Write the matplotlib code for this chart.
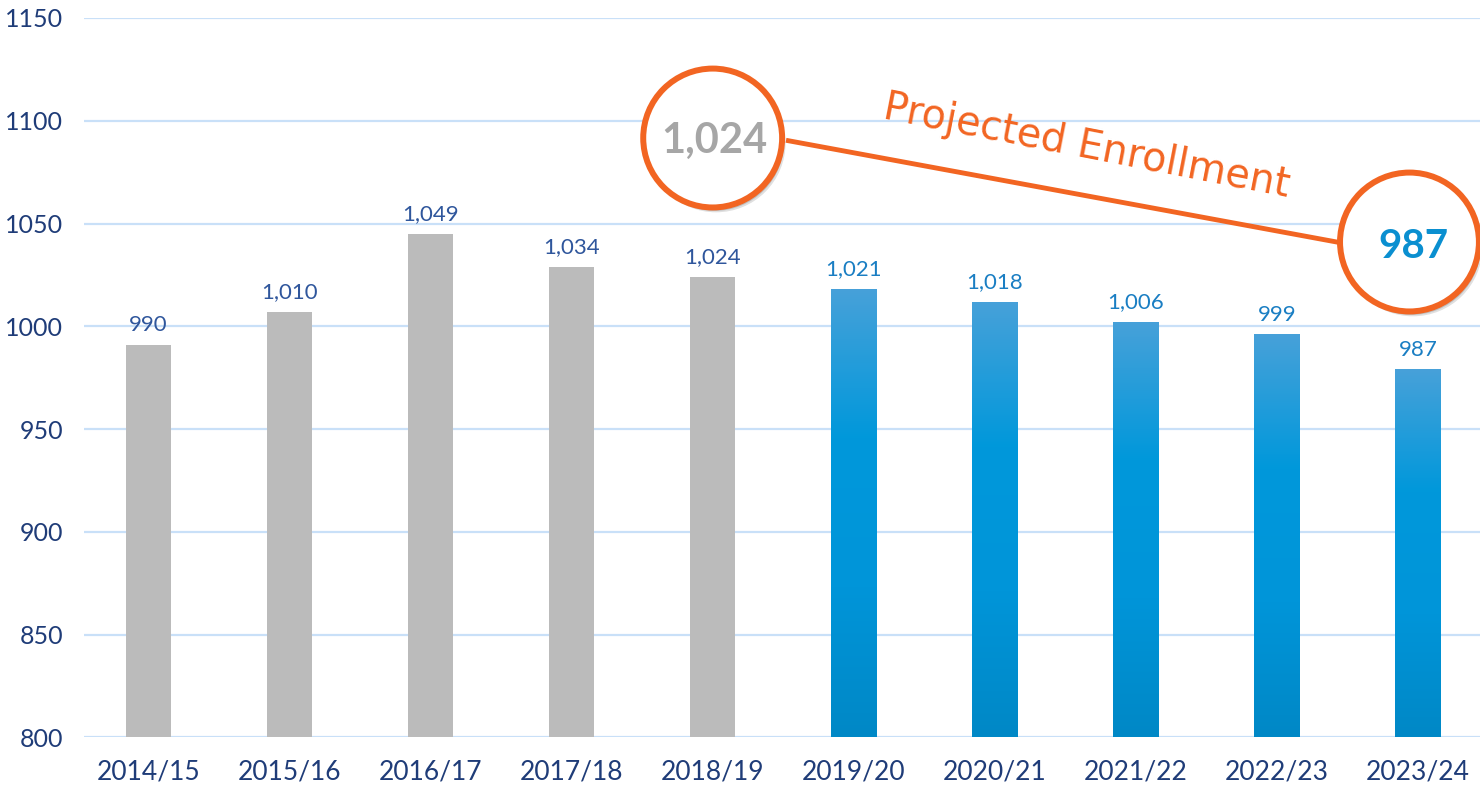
import numpy as np
import matplotlib
matplotlib.use("Agg")
import matplotlib.pyplot as plt
from matplotlib.colors import LinearSegmentedColormap
import matplotlib.patheffects as pe

# ---------------- data ----------------
years = ["2014/15", "2015/16", "2016/17", "2017/18", "2018/19",
         "2019/20", "2020/21", "2021/22", "2022/23", "2023/24"]
# bar heights as drawn in the reference
enrollment = [991, 1007, 1045, 1029, 1024, 1018, 1012, 1002, 996, 979]
# value labels printed above bars
value_labels = ["990", "1,010", "1,049", "1,034", "1,024",
                "1,021", "1,018", "1,006", "999", "987"]
projected = [False] * 5 + [True] * 5
yticks = [800, 850, 900, 950, 1000, 1050, 1100, 1150]

current_label = "1,024"
projected_label = "987"
annotation_text = "Projected Enrollment"

# ---------------- style ----------------
FONT = ["Lato", "DejaVu Sans"]
plt.rcParams["font.family"] = FONT
NAVY = "#1F3C78"
GRAY_LBL = "#2F569C"
BLUE_LBL = "#1A7EC3"
GRID = "#C9E0F8"
GRAY_BAR = "#BBBBBB"
ORANGE = "#F26522"

fig = plt.figure(figsize=(14.8, 7.86), dpi=100)
ax = fig.add_axes([84 / 1480, 1 - 737.3 / 786, (1480 - 84) / 1480, (737.3 - 18) / 786])

x = np.arange(len(years))
bw = 0.32
bars = ax.bar(x, enrollment, width=bw, color=GRAY_BAR, zorder=2)

cmap = LinearSegmentedColormap.from_list(
    "proj", ["#0088C6", "#0095D9", "#0098DB", "#47A1D9"])
grad = np.linspace(0, 1, 256).reshape(-1, 1)
for i, (b, p) in enumerate(zip(bars, projected)):
    if p:
        b.set_facecolor("none")
        im = ax.imshow(grad, extent=[x[i] - bw / 2, x[i] + bw / 2, 800, enrollment[i]],
                       origin="lower", aspect="auto", cmap=cmap, zorder=2)
        im.set_clip_path(b)

for i, (v, lbl, p) in enumerate(zip(enrollment, value_labels, projected)):
    ax.annotate(lbl, (x[i], v), xytext=(0, 7), textcoords="offset points",
                ha="center", va="bottom", fontsize=16,
                color=BLUE_LBL if p else GRAY_LBL, zorder=3)

ax.set_yticks(yticks)
ax.set_yticklabels([str(t) for t in yticks])
ax.set_xticks(x)
ax.set_xticklabels(years)
ax.tick_params(axis="y", length=0, pad=15, labelsize=18, labelcolor=NAVY)
ax.tick_params(axis="x", length=0, pad=16, labelsize=19, labelcolor=NAVY)
ax.grid(axis="y", color=GRID, linewidth=1.6, zorder=0)
ax.set_axisbelow(True)
for s in ax.spines.values():
    s.set_visible(False)

# ---------------- annotation circles ----------------
c1 = (4, 1091.6)
c2 = (8.94, 1041)
ax.plot([4 + 0.52, 8.94 - 0.5], [1090.5, 1040.8], color=ORANGE, lw=3.5,
        solid_capstyle="butt", zorder=5, clip_on=False)

shadow = [pe.SimplePatchShadow(offset=(2.5, -3.5), shadow_rgbFace="#000000", alpha=0.12),
          pe.SimplePatchShadow(offset=(1.5, -2.5), shadow_rgbFace="#000000", alpha=0.15),
          pe.Normal()]
for cx, cy in (c1, c2):
    ax.plot([cx], [cy], marker="o", markersize=100, markerfacecolor="white",
            markeredgecolor=ORANGE, markeredgewidth=4.3, zorder=6,
            clip_on=False, path_effects=shadow)

ax.text(4.01, 1090.3, current_label, ha="center", va="center", fontsize=30,
        fontweight="bold", color="#A6A6A6", zorder=7)
ax.text(8.97, 1038.8, projected_label, ha="center", va="center", fontsize=29,
        fontweight="bold", color="#0A8FD0", zorder=7)
ax.text(6.654, 1087.5, annotation_text, ha="center", va="center",
        rotation=-11, rotation_mode="anchor", fontsize=28.5, color=ORANGE,
        family=["DejaVu Sans"], zorder=7)

ax.set_xlim(-0.457, 9.44)
ax.set_ylim(800, 1150)

fig.savefig("out.png", dpi=100)
